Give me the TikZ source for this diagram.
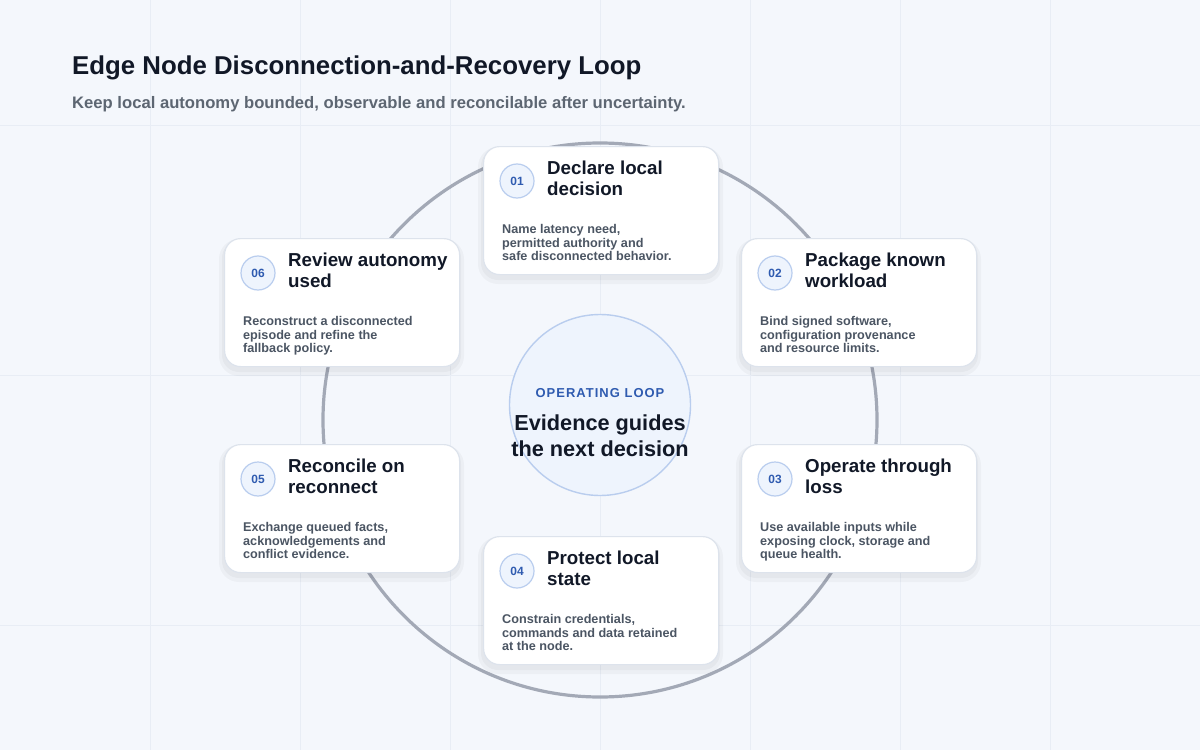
\documentclass[tikz,border=0pt]{standalone}
\usepackage{fontspec}
\setmainfont{Liberation Sans}
\begin{document}
\begin{tikzpicture}[x=1bp,y=-1bp,
  card/.style={draw=cardline,line width=1.2bp,fill=white,rounded corners=16bp,minimum width=235bp,minimum height=128bp,inner sep=0pt},
  badge/.style={circle,draw=badgeline,line width=1.2bp,fill=badgefill,minimum size=34bp,inner sep=0pt,font=\bfseries\fontsize{12}{12}\selectfont,text=numblue},
  ttl/.style={anchor=north west,align=left,font=\bfseries\fontsize{18.8}{21}\selectfont,text=ink,inner sep=0pt},
  dsc/.style={anchor=north west,align=left,font=\bfseries\fontsize{12.7}{13.2}\selectfont,text=desc,inner sep=0pt}]
\definecolor{bg}{HTML}{F4F7FC}
\definecolor{grid}{HTML}{E8EDF5}
\definecolor{cardline}{HTML}{DDE3EC}
\definecolor{badgeline}{HTML}{B9CDEE}
\definecolor{badgefill}{HTML}{EEF4FD}
\definecolor{numblue}{HTML}{2F5BB0}
\definecolor{ink}{HTML}{111827}
\definecolor{desc}{HTML}{4B5563}
\definecolor{loopc}{HTML}{A3A9B6}
\fill[bg] (0,0) rectangle (1200,750);
\useasboundingbox (0,0) rectangle (1200,750);
\foreach \x in {150,300,...,1050} \draw[grid,line width=0.8bp] (\x,0) -- (\x,750);
\foreach \y in {125,375,625} \draw[grid,line width=0.8bp] (0,\y) -- (1200,\y);
\node[anchor=west,inner sep=0pt,font=\bfseries\fontsize{25.9}{28}\selectfont,text=ink] (title) at (72,68) {Edge Node Disconnection-and-Recovery Loop};
\node[anchor=west,inner sep=0pt,font=\bfseries\fontsize{16.7}{19}\selectfont,text=desc!90!white] (sub) at (72,104) {Keep local autonomy bounded, observable and reconcilable after uncertainty.};
\coordinate (c) at (600,420);
\draw[loopc,line width=3.2bp] (c) circle[radius=277];
\node[circle,draw=badgeline,line width=1.4bp,fill=badgefill,minimum size=181bp,inner sep=0pt] (hub) at (600,405) {};
\node[font=\bfseries\fontsize{13}{13}\selectfont\addfontfeature{LetterSpace=8},text=numblue] (hl) at (600,393) {OPERATING LOOP};
\node[align=center,font=\bfseries\fontsize{21.8}{26}\selectfont,text=ink] (ht) at (600,436) {Evidence guides\\the next decision};
\foreach \n/\x/\y/\t/\d in {
 01/483/146/{Declare local\\decision}/{Name latency need,\\permitted authority and\\safe disconnected behavior.},
 02/741/238/{Package known\\workload}/{Bind signed software,\\configuration provenance\\and resource limits.},
 03/741/444/{Operate through\\loss}/{Use available inputs while\\exposing clock, storage and\\queue health.},
 04/483/536/{Protect local\\state}/{Constrain credentials,\\commands and data retained\\at the node.},
 05/224/444/{Reconcile on\\reconnect}/{Exchange queued facts,\\acknowledgements and\\conflict evidence.},
 06/224/238/{Review autonomy\\used}/{Reconstruct a disconnected\\episode and refine the\\fallback policy.}}{
  \fill[black,opacity=0.03,rounded corners=20bp] (\x-5,\y+1) rectangle (\x+240,\y+138);
  \fill[black,opacity=0.03,rounded corners=17bp] (\x-2,\y+3) rectangle (\x+237,\y+134);
  \node[card,anchor=north west] (card\n) at (\x,\y) {};
  \node[badge] (b\n) at (\x+34,\y+35) {\n};
  \node[ttl] (t\n) at (\x+64,\y+15) {\t};
  \node[dsc] (d\n) at (\x+19,\y+78.5) {\d};
}
\end{tikzpicture}
\end{document}
